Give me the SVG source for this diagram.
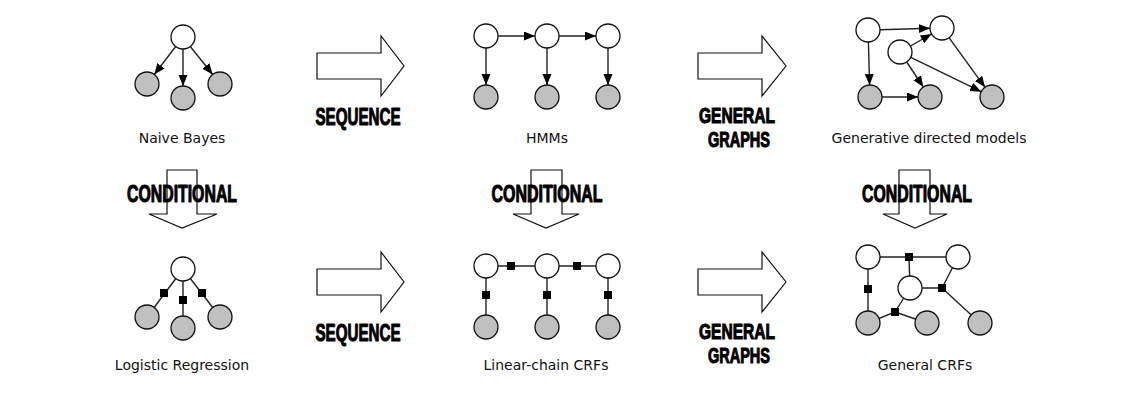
<svg xmlns="http://www.w3.org/2000/svg" width="1136" height="413" viewBox="0 0 1136 413">
<defs>
<style>
.obs{fill:#c0c0c0;stroke:#111;stroke-width:1.3}
.hid{fill:#fff;stroke:#111;stroke-width:1.3}
.e{fill:none;stroke:#222;stroke-width:1.4}
.ea{fill:none;stroke:#222;stroke-width:1.4;marker-end:url(#ah)}
.f{fill:#000}
.lbl{font-family:"DejaVu Sans",Verdana,sans-serif;font-size:14px;fill:#111;text-anchor:middle}
.big{fill:#fff;stroke:#111;stroke-width:1.2}
.bt{font-family:"Liberation Sans",Arial,sans-serif;font-weight:700;font-size:24px;fill:#000;stroke:#000;stroke-width:1.1;stroke-linejoin:round;text-anchor:middle}
.bt2{font-size:22px}
</style>
<marker id="ah" markerUnits="userSpaceOnUse" markerWidth="12" markerHeight="10" refX="11" refY="4.5" orient="auto">
<path d="M0,0 L11,4.5 L0,9 z" fill="#000"/>
</marker>
</defs>
<rect width="1136" height="413" fill="#fff"/>

<!-- block arrows -->
<g id="arrows">
<polygon class="big" points="317,53 381,53 381,36 404,66 381,96 381,79 317,79"/>
<polygon class="big" points="698,53 762,53 762,36 786,66 762,96 762,79 698,79"/>
<polygon class="big" points="317,269 381,269 381,252 404,282 381,312 381,295 317,295"/>
<polygon class="big" points="698,269 762,269 762,252 786,282 762,312 762,295 698,295"/>
<polygon class="big" points="167,170 197,170 197,214 217,214 182,228 149,214 167,214"/>
<polygon class="big" points="531,170 562,170 562,214 579,214 546,228 513,214 531,214"/>
<polygon class="big" points="899,170 930,170 930,214 947,214 915,228 883,214 899,214"/>
</g>
<g id="arrow-labels">
<text class="bt" x="358" y="125" textLength="85" lengthAdjust="spacingAndGlyphs">SEQUENCE</text>
<text class="bt" x="358" y="341" textLength="85" lengthAdjust="spacingAndGlyphs">SEQUENCE</text>
<text class="bt bt2" x="737" y="123" textLength="76" lengthAdjust="spacingAndGlyphs">GENERAL</text>
<text class="bt bt2" x="739" y="147" textLength="62" lengthAdjust="spacingAndGlyphs">GRAPHS</text>
<text class="bt bt2" x="737" y="339" textLength="76" lengthAdjust="spacingAndGlyphs">GENERAL</text>
<text class="bt bt2" x="739" y="363" textLength="62" lengthAdjust="spacingAndGlyphs">GRAPHS</text>
<text class="bt" x="182" y="202" textLength="110" lengthAdjust="spacingAndGlyphs">CONDITIONAL</text>
<text class="bt" x="547" y="202" textLength="111" lengthAdjust="spacingAndGlyphs">CONDITIONAL</text>
<text class="bt" x="917" y="202" textLength="110" lengthAdjust="spacingAndGlyphs">CONDITIONAL</text>
</g>

<!-- connectors -->
<g id="connectors">
<!-- Naive Bayes -->
<path class="ea" d="M175.7,46.5 L154.3,74.5"/>
<path class="ea" d="M183,49 L183,86"/>
<path class="ea" d="M190.3,46.5 L212.7,74.5"/>
<!-- HMMs -->
<path class="ea" d="M498,36 L535,36"/>
<path class="ea" d="M559,36 L596,36"/>
<path class="ea" d="M486,48 L486,85"/>
<path class="ea" d="M547,48 L547,85"/>
<path class="ea" d="M608,48 L608,85"/>
<!-- Generative directed -->
<path class="ea" d="M880,29.7 L930,28.3"/>
<path class="ea" d="M868.4,42 L869.6,85"/>
<path class="ea" d="M910.4,46 L931.6,34"/>
<path class="ea" d="M906.7,62 L923.3,87"/>
<path class="ea" d="M910.8,57.3 L981.2,91.7"/>
<path class="ea" d="M949,37.7 L985,87.3"/>
<path class="ea" d="M882,97 L918,97"/>
<!-- Logistic regression -->
<path class="e" d="M183,269 L147,317"/>
<path class="e" d="M183,269 L183,328"/>
<path class="e" d="M183,269 L220,317"/>
<!-- Linear-chain -->
<path class="e" d="M486,266 L608,266"/>
<path class="e" d="M486,266 L486,327"/>
<path class="e" d="M547,266 L547,327"/>
<path class="e" d="M608,266 L608,327"/>
<!-- General CRFs -->
<path class="e" d="M868,257 L958,257"/>
<path class="e" d="M909,257 L910,288"/>
<path class="e" d="M868,257 L868,323"/>
<path class="e" d="M910,288 L942,288 L958,257"/>
<path class="e" d="M942,288 L980,323"/>
<path class="e" d="M910,288 L895,312 L868,323"/>
<path class="e" d="M895,312 L927,323"/>
</g>

<g id="factors">
<rect class="f" x="160" y="289" width="8" height="8"/>
<rect class="f" x="179" y="296" width="8" height="8"/>
<rect class="f" x="198" y="289" width="8" height="8"/>
<rect class="f" x="507" y="262" width="8" height="8"/>
<rect class="f" x="573" y="262" width="8" height="8"/>
<rect class="f" x="482" y="291" width="8" height="8"/>
<rect class="f" x="543" y="291" width="8" height="8"/>
<rect class="f" x="604" y="291" width="8" height="8"/>
<rect class="f" x="905" y="253" width="8" height="8"/>
<rect class="f" x="864" y="285" width="8" height="8"/>
<rect class="f" x="938" y="284" width="8" height="8"/>
<rect class="f" x="891" y="308" width="8" height="8"/>
</g>

<g id="naive-bayes">
<circle class="hid" cx="183" cy="37" r="12"/>
<circle class="obs" cx="147" cy="84" r="12"/>
<circle class="obs" cx="183" cy="98" r="12"/>
<circle class="obs" cx="220" cy="84" r="12"/>
<text class="lbl" x="182" y="143">Naive Bayes</text>
</g>
<g id="hmms">
<circle class="hid" cx="486" cy="36" r="12"/>
<circle class="hid" cx="547" cy="36" r="12"/>
<circle class="hid" cx="608" cy="36" r="12"/>
<circle class="obs" cx="486" cy="97" r="12"/>
<circle class="obs" cx="547" cy="97" r="12"/>
<circle class="obs" cx="608" cy="97" r="12"/>
<text class="lbl" x="547" y="143">HMMs</text>
</g>
<g id="generative-directed">
<circle class="hid" cx="868" cy="30" r="12"/>
<circle class="hid" cx="942" cy="28" r="12"/>
<circle class="hid" cx="900" cy="52" r="12"/>
<circle class="obs" cx="870" cy="97" r="12"/>
<circle class="obs" cx="930" cy="97" r="12"/>
<circle class="obs" cx="992" cy="97" r="12"/>
<text class="lbl" x="929" y="143">Generative directed models</text>
</g>
<g id="logistic-regression">
<circle class="hid" cx="183" cy="269" r="12"/>
<circle class="obs" cx="147" cy="317" r="12"/>
<circle class="obs" cx="183" cy="328" r="12"/>
<circle class="obs" cx="220" cy="317" r="12"/>
<text class="lbl" x="182" y="370">Logistic Regression</text>
</g>
<g id="linear-chain-crfs">
<circle class="hid" cx="486" cy="266" r="12"/>
<circle class="hid" cx="547" cy="266" r="12"/>
<circle class="hid" cx="608" cy="266" r="12"/>
<circle class="obs" cx="486" cy="327" r="12"/>
<circle class="obs" cx="547" cy="327" r="12"/>
<circle class="obs" cx="608" cy="327" r="12"/>
<text class="lbl" x="546" y="370">Linear-chain CRFs</text>
</g>
<g id="general-crfs">
<circle class="hid" cx="868" cy="257" r="12"/>
<circle class="hid" cx="958" cy="257" r="12"/>
<circle class="hid" cx="910" cy="288" r="12"/>
<circle class="obs" cx="868" cy="323" r="12"/>
<circle class="obs" cx="927" cy="323" r="12"/>
<circle class="obs" cx="980" cy="323" r="12"/>
<text class="lbl" x="925" y="370">General CRFs</text>
</g>
</svg>
